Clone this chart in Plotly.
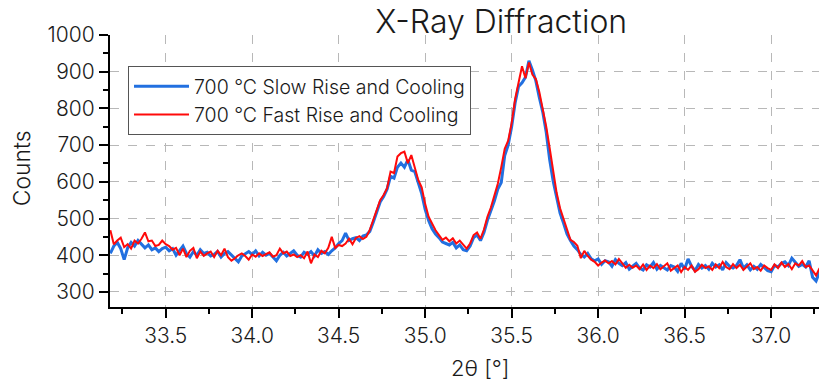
import plotly.graph_objects as go

# 2-theta grid: start and step (degrees)
theta_start = 33.18
theta_step = 0.02

# Counts, 700 °C slow rise and cooling (blue)
slow_counts = [
    405, 425, 435, 418, 388, 420, 435, 425, 440, 430, 420, 428, 415, 420, 410, 418, 422, 412, 418, 400,
    412, 425, 405, 395, 410, 400, 415, 405, 408, 398, 402, 410, 395, 405, 410, 400, 390, 382, 398, 405,
    410, 402, 412, 398, 408, 400, 405, 395, 385, 400, 408, 398, 405, 412, 400, 395, 408, 402, 410, 398,
    415, 405, 410, 402, 412, 420, 432, 440, 460, 440, 445,
    448, 440, 452, 455, 465, 490, 518, 545, 560, 580,
    615, 610, 640, 651, 640, 660, 632, 628, 598, 568, 525, 495, 472, 458, 448, 436, 432, 428, 435, 420,
    428, 415, 412, 425,
    448, 455, 440, 462, 495, 520, 548, 580, 598, 672, 700, 750, 815, 860, 870, 885, 930, 905, 875, 830,
    790, 735, 660, 602, 558, 515, 488, 458, 440, 425, 415, 402, 395, 405, 390, 385,
    390, 375, 385, 382, 370, 388, 378, 372, 380, 362, 370, 378, 365, 360, 374, 368, 380, 362, 372, 366,
    360, 372, 368, 356, 378, 362, 390, 370, 358, 375, 365, 372, 362, 378, 368, 374, 360, 380, 370, 365,
    372, 388, 365, 374, 360, 370, 362, 375, 366, 358, 355, 372, 368, 378, 382, 372, 392, 380, 370, 375,
    368, 385, 340, 330, 355,
]

# Counts, 700 °C fast rise and cooling (red)
fast_counts = [
    468, 430, 440, 448, 422, 430, 418, 440, 432, 445, 462, 438, 440, 425, 428, 440, 430, 425, 415, 420,
    400, 418, 395, 412, 420, 392, 410, 398, 405, 410, 395, 412, 400, 418, 395, 385, 392, 400, 405, 398,
    388, 402, 396, 405, 398, 402, 408, 396, 400, 418, 405, 410, 398, 402, 395, 400, 392, 410, 378, 402,
    395, 412, 405, 420, 450, 420, 428, 425, 432, 445, 430,
    447, 452, 444, 450, 469, 496, 523, 550, 564, 583,
    628, 624, 669, 678, 682, 651, 673, 641, 605, 585, 540, 505, 485, 468, 455, 442, 448, 438, 446, 432,
    440, 428, 418, 432,
    455, 462, 445, 470, 505, 530, 560, 595, 640, 690, 712, 760, 825, 872, 915, 882, 925, 892, 880, 845,
    800, 750, 692, 628, 570, 528, 500, 468, 442, 436, 426, 392, 412, 398, 388, 382,
    372, 380, 386, 378, 384, 375, 390, 378, 366, 374, 366, 372, 362, 375, 360, 372, 365, 376, 362, 370,
    378, 358, 365, 372, 354, 368, 360, 372, 355, 362, 374, 365, 370, 360, 375, 365, 382, 368, 362, 376,
    365, 374, 360, 368, 378, 362, 368, 358, 372, 365, 360, 375, 365, 380, 368, 376, 362, 378, 372, 384,
    368, 372, 360, 345, 365,
]

series_names = ["700 °C Slow Rise and Cooling", "700 °C Fast Rise and Cooling"]
series_colors = ["#2270e0", "#ff0a0a"]
x_title = "2θ [°]"
y_title = "Counts"
chart_title = "X-Ray Diffraction"

FONT = "Inter"
TXT = "#1a1a1a"

fig = go.Figure()
fig.add_trace(go.Scatter(
    x0=theta_start, dx=theta_step, y=slow_counts, mode="lines",
    name=series_names[0], line=dict(color=series_colors[0], width=3),
))
fig.add_trace(go.Scatter(
    x0=theta_start, dx=theta_step, y=fast_counts, mode="lines",
    name=series_names[1], line=dict(color=series_colors[1], width=2),
))

grid = dict(showgrid=True, gridcolor="#b8b8b8", griddash="dash", gridwidth=1)
tickfont = dict(family=FONT, size=21, color=TXT, weight=300)

fig.update_layout(
    width=819, height=385,
    margin=dict(l=110, r=0, t=35, b=78),
    paper_bgcolor="white", plot_bgcolor="white",
    font=dict(family=FONT, size=19, color=TXT, weight=300),
    title=dict(text=chart_title, x=0.612, xref="container", xanchor="center",
               y=0.943, yref="container", yanchor="middle",
               font=dict(family=FONT, size=32, color=TXT, weight=300)),
    showlegend=True,
    legend=dict(x=0.0254, y=0.886, xanchor="left", yanchor="top",
                bgcolor="white", bordercolor="#555555", borderwidth=1,
                font=dict(family=FONT, size=19.5, color=TXT, weight=300), itemwidth=55),
    xaxis=dict(range=[33.178, 37.277], dtick=0.5, tick0=33.5, tickformat=".1f",
               showline=True, linecolor="black", linewidth=2,
               ticks="outside", ticklen=9, tickwidth=2, tickcolor="black", tickfont=tickfont,
               minor=dict(dtick=0.25, tick0=33.25, ticks="outside", ticklen=5, tickwidth=2,
                          tickcolor="black", showgrid=False),
               zeroline=False, **grid),
    yaxis=dict(range=[259, 1000], dtick=100, tick0=0,
               showline=True, linecolor="black", linewidth=2,
               ticks="outside", ticklen=9, tickwidth=2, tickcolor="black", tickfont=tickfont,
               minor=dict(dtick=50, ticks="outside", ticklen=5, tickwidth=2,
                          tickcolor="black", showgrid=False),
               zeroline=False, **grid),
    annotations=[
        dict(text=x_title, xref="paper", yref="paper", x=0.522, y=-0.225,
             xanchor="center", yanchor="middle", showarrow=False,
             font=dict(family=FONT, size=22, color=TXT, weight=300)),
        dict(text=y_title, xref="paper", yref="paper", x=-0.124, y=0.51,
             xanchor="center", yanchor="middle", showarrow=False, textangle=-90,
             font=dict(family=FONT, size=23, color=TXT, weight=300)),
    ],
)

fig.write_html("out.html")
